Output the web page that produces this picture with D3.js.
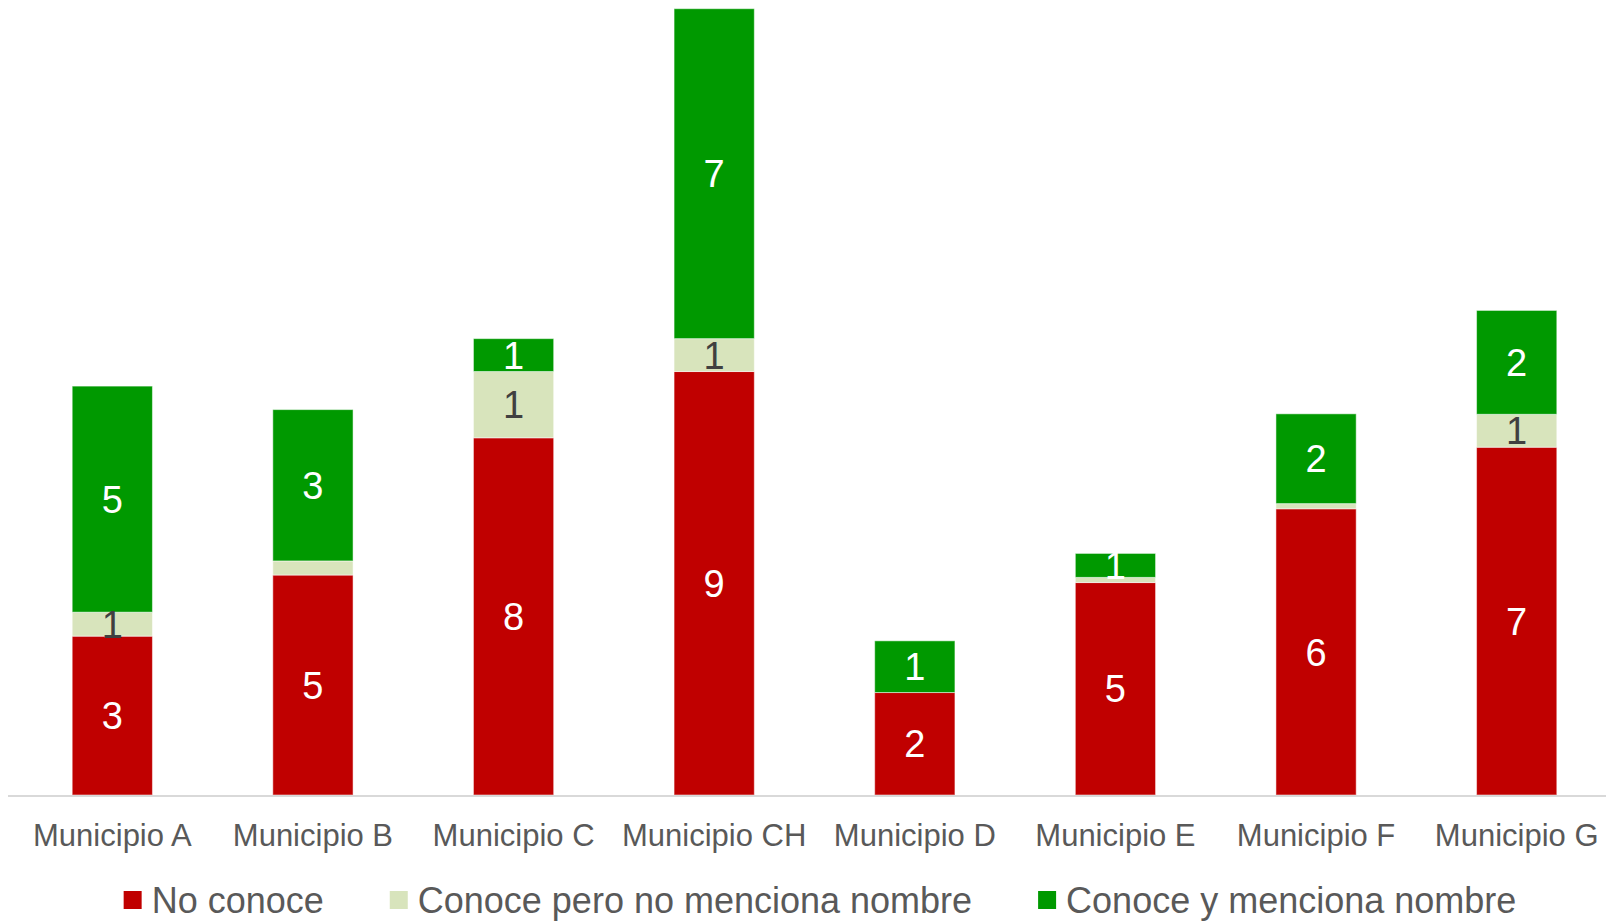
<!DOCTYPE html>
<html>
<head>
<meta charset="utf-8">
<script src="https://cdn.jsdelivr.net/npm/d3@7"></script>
<style>
  body { margin: 0; background: #fff; }
  svg { display: block; font-family: "Liberation Sans", Arial, sans-serif; }
</style>
</head>
<body>
<div id="chart"></div>
<script>
// data (labels show rounded values)
const municipios = ["Municipio A", "Municipio B", "Municipio C", "Municipio CH", "Municipio D", "Municipio E", "Municipio F", "Municipio G"];
const noConoce = [3.38, 4.68, 7.60, 9.01, 2.18, 4.52, 6.09, 7.40];
const conocePero = [0.51, 0.30, 1.41, 0.70, 0, 0.11, 0.11, 0.70];
const conoceY = [4.81, 3.22, 0.70, 7.02, 1.10, 0.51, 1.91, 2.21];
const seriesNames = ["No conoce", "Conoce pero no menciona nombre", "Conoce y menciona nombre"];

const width = 1606;
const height = 922;
const colors = ["#C00000", "#D8E4BC", "#009900"];
const labelColors = ["#ffffff", "#404040", "#ffffff"];

const rows = municipios.map((m, i) => ({
  municipio: m,
  [seriesNames[0]]: noConoce[i],
  [seriesNames[1]]: conocePero[i],
  [seriesNames[2]]: conoceY[i],
}));

const stacked = d3.stack().keys(seriesNames)(rows);

const svg = d3.select("#chart").append("svg")
  .attr("width", width)
  .attr("height", height);

const x = d3.scaleBand()
  .domain(municipios)
  .range([12, 1617])
  .paddingInner(0.6)
  .paddingOuter(0.3);

const y = d3.scaleLinear()
  .domain([0, 17])
  .range([795, -4]);

// bars
const groups = svg.append("g")
  .selectAll("g")
  .data(stacked)
  .join("g")
  .attr("fill", (d, i) => colors[i]);

groups.selectAll("rect")
  .data((d) => d)
  .join("rect")
  .attr("x", (d) => x(d.data.municipio))
  .attr("width", x.bandwidth())
  .attr("y", (d) => y(d[1]))
  .attr("height", (d) => y(d[0]) - y(d[1]))
  .attr("stroke", "#fff")
  .attr("stroke-opacity", 0.5)
  .attr("stroke-width", 1);

// data labels
const fmt = d3.format(".0f");
stacked.forEach((s, i) => {
  svg.append("g")
    .selectAll("text")
    .data(s.filter((d) => d[1] - d[0] >= 0.5))
    .join("text")
    .attr("x", (d) => x(d.data.municipio) + x.bandwidth() / 2)
    .attr("y", (d) => (y(d[0]) + y(d[1])) / 2)
    .attr("dy", "0.36em")
    .attr("text-anchor", "middle")
    .attr("font-size", 38)
    .attr("fill", labelColors[i])
    .text((d) => fmt(d[1] - d[0]));
});

// x axis
const xAxis = svg.append("g")
  .attr("transform", `translate(0,${y(0)})`)
  .call(d3.axisBottom(x).tickSize(0).tickPadding(29));
xAxis.select(".domain").remove();
xAxis.append("line")
  .attr("x1", 8)
  .attr("x2", width)
  .attr("y1", 1)
  .attr("y2", 1)
  .attr("stroke", "#d9d9d9")
  .attr("stroke-width", 2);
xAxis.selectAll(".tick text")
  .attr("font-size", 31)
  .attr("font-family", "Liberation Sans, Arial, sans-serif")
  .attr("fill", "#595959")
  .attr("dy", "0.71em");

// legend
const legend = svg.append("g");
const gap = 66;
let lx = 0;
seriesNames.forEach((name, i) => {
  const g = legend.append("g").attr("transform", `translate(${lx},0)`);
  g.append("rect")
    .attr("x", 0)
    .attr("y", -9)
    .attr("width", 18)
    .attr("height", 18)
    .attr("fill", colors[i]);
  const t = g.append("text")
    .attr("x", 28)
    .attr("dy", "0.36em")
    .attr("font-size", 36)
    .attr("fill", "#595959")
    .text(name);
  lx += 28 + t.node().getComputedTextLength() + gap;
});
const legendWidth = lx - gap;
legend.attr("transform", `translate(${820 - legendWidth / 2},900)`);
</script>
</body>
</html>
